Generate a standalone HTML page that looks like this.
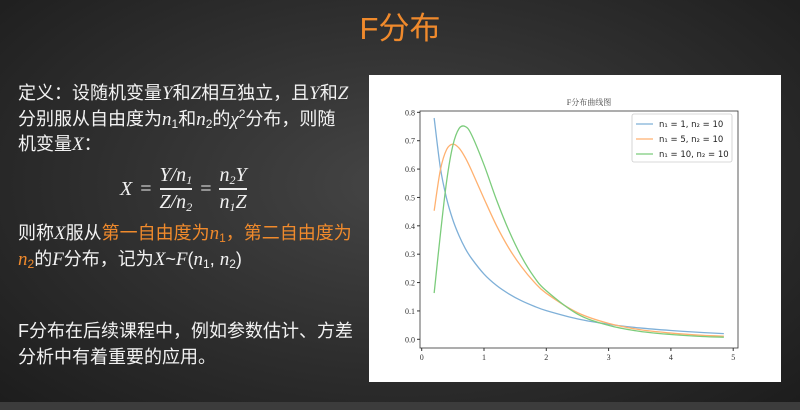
<!DOCTYPE html>
<html><head><meta charset="utf-8">
<style>
body{margin:0;width:800px;height:410px;overflow:hidden;background:radial-gradient(ellipse at 50% 45%,#454545 0%,#2e2e2e 55%,#1c1c1c 100%);font-family:"Liberation Sans","Noto Sans CJK SC",sans-serif;position:relative;color:#fff}
.t{position:absolute;white-space:nowrap;font-size:18px;color:#f2f2f2}
.m{font-family:"Liberation Serif",serif;font-style:italic;font-size:19px}
.o{color:#f08a2c}
sub{font-size:12px;vertical-align:-3px}
</style></head><body>
<div style="position:absolute;left:0;width:800px;top:3px;text-align:center;font-size:31px;color:#f08a2c">F分布</div>
<div class="t" style="left:18px;top:79px">定义：设随机变量<span class="m">Y</span>和<span class="m">Z</span>相互独立，且<span class="m">Y</span>和<span class="m">Z</span></div>
<div class="t" style="left:18px;top:105px">分别服从自由度为<span class="m">n</span><sub>1</sub>和<span class="m">n</span><sub>2</sub>的<span class="m">χ</span><sup style="font-size:12px">2</sup>分布，则随</div>
<div class="t" style="left:18px;top:130px">机变量<span class="m">X</span>：</div>
<div style="position:absolute;left:120px;top:164px;font-family:'Liberation Serif',serif;font-style:italic;font-size:20px;color:#f2f2f2;display:flex;align-items:center;gap:8px">
<span>X</span><span style="font-style:normal">=</span>
<span style="display:inline-flex;flex-direction:column;align-items:center"><span>Y/n<sub>1</sub></span><span style="border-top:2px solid #eee;padding-top:1px">Z/n<sub>2</sub></span></span>
<span style="font-style:normal">=</span>
<span style="display:inline-flex;flex-direction:column;align-items:center"><span>n<sub>2</sub>Y</span><span style="border-top:2px solid #eee;padding-top:1px">n<sub>1</sub>Z</span></span>
</div>
<div class="t" style="left:18px;top:219px">则称<span class="m">X</span>服从<span class="o">第一自由度为<span class="m">n</span><sub>1</sub>，第二自由度为</span></div>
<div class="t" style="left:18px;top:245px"><span class="o"><span class="m">n</span><sub>2</sub></span>的<span class="m">F</span>分布，记为<span class="m">X</span>~<span class="m">F</span>(<span class="m">n</span><sub>1</sub>, <span class="m">n</span><sub>2</sub>)</div>
<div class="t" style="left:18px;top:317px">F分布在后续课程中，例如参数估计、方差</div>
<div class="t" style="left:18px;top:343px">分析中有着重要的应用。</div>
<div style="position:absolute;left:0;top:402px;width:800px;height:8px;background:#3c3c3c"></div>
<svg id="chart" style="position:absolute;left:369px;top:75px" width="412" height="307"></svg>
<script>
const xs=[0.2,0.3,0.4,0.5,0.6,0.7,0.8,1.0,1.2,1.4,1.6,1.8,2.0,2.5,3,3.5,4,4.5,4.85];
const s1=[0.78,0.604,0.496,0.421,0.365,0.320,0.285,0.230,0.190,0.160,0.136,0.117,0.101,0.072,0.053,0.040,0.031,0.024,0.020];
const s2=[0.453,0.597,0.669,0.688,0.674,0.640,0.595,0.496,0.401,0.321,0.256,0.203,0.162,0.094,0.056,0.034,0.022,0.014,0.011];
const s3=[0.163,0.370,0.557,0.683,0.743,0.750,0.721,0.615,0.492,0.383,0.292,0.221,0.171,0.089,0.049,0.028,0.017,0.010,0.0075];
const xTicks=[0,1,2,3,4,5];
const yTicks=[0,0.1,0.2,0.3,0.4,0.5,0.6,0.7,0.8];
const seriesLabels=["n₁ = 1, n₂ = 10","n₁ = 5, n₂ = 10","n₁ = 10, n₂ = 10"];
const colors=["#7fb0d8","#ffb170","#7ccc7c"];
const svg=document.getElementById('chart');const NS='http://www.w3.org/2000/svg';
const X=v=>52.7+v*62.3, Y=v=>264.3-v*283.7;
function el(t,a,p){const e=document.createElementNS(NS,t);for(const k in a)e.setAttribute(k,a[k]);(p||svg).appendChild(e);return e;}
const bg=el('rect',{x:0,y:0,width:412,height:307,fill:'#fff'});


const tt=el('text',{x:220,y:30,'font-size':8,'text-anchor':'middle',fill:'#444','font-family':'"Liberation Serif","Noto Serif CJK SC",serif'});tt.textContent='F分布曲线图';


xTicks.forEach(v=>{const g=el('g',{});


el('line',{x1:X(v),x2:X(v),y1:273,y2:276,stroke:'#333'},g);
const t=el('text',{x:X(v),y:285,'font-size':8,'text-anchor':'middle',fill:'#333','font-family':'Liberation Serif,serif'},g);t.textContent=v;});
yTicks.forEach(v=>{const g=el('g',{});


el('line',{x1:48,x2:51,y1:Y(v),y2:Y(v),stroke:'#333'},g);
const t=el('text',{x:46,y:Y(v)+3,'font-size':8,'text-anchor':'end',fill:'#333','font-family':'Liberation Serif,serif'},g);t.textContent=v.toFixed(1);});
function path(ys){let pts=xs.map((x,i)=>[X(x),Y(ys[i])]);let d='M'+pts[0].join(',');
for(let i=0;i<pts.length-1;i++){const p0=pts[i-1]||pts[i],p1=pts[i],p2=pts[i+1],p3=pts[i+2]||p2;
d+=` C${p1[0]+(p2[0]-p0[0])/6},${p1[1]+(p2[1]-p0[1])/6} ${p2[0]-(p3[0]-p1[0])/6},${p2[1]-(p3[1]-p1[1])/6} ${p2[0]},${p2[1]}`;}return d;}
[s1,s2,s3].forEach((s,i)=>{const p=el('path',{d:path(s),fill:'none',stroke:colors[i],'stroke-width':1.3});

});
const ax=el('rect',{x:51,y:36,width:318,height:237,fill:'none',stroke:'#333','stroke-width':0.8});


const lg=el('g',{});


el('rect',{x:263,y:39,width:100,height:48,fill:'#fff',stroke:'#ccc','stroke-width':0.8,rx:2},lg);
seriesLabels.forEach((l,i)=>{const y=49+i*15;
const g=el('g',{},lg);


el('line',{x1:267,x2:284,y1:y,y2:y,stroke:colors[i],'stroke-width':1.3},g);
const t=el('text',{x:290,y:y+3,'font-size':8.5,fill:'#222','font-family':'DejaVu Sans,sans-serif'},g);t.textContent=l;});
</script>
</body></html>
